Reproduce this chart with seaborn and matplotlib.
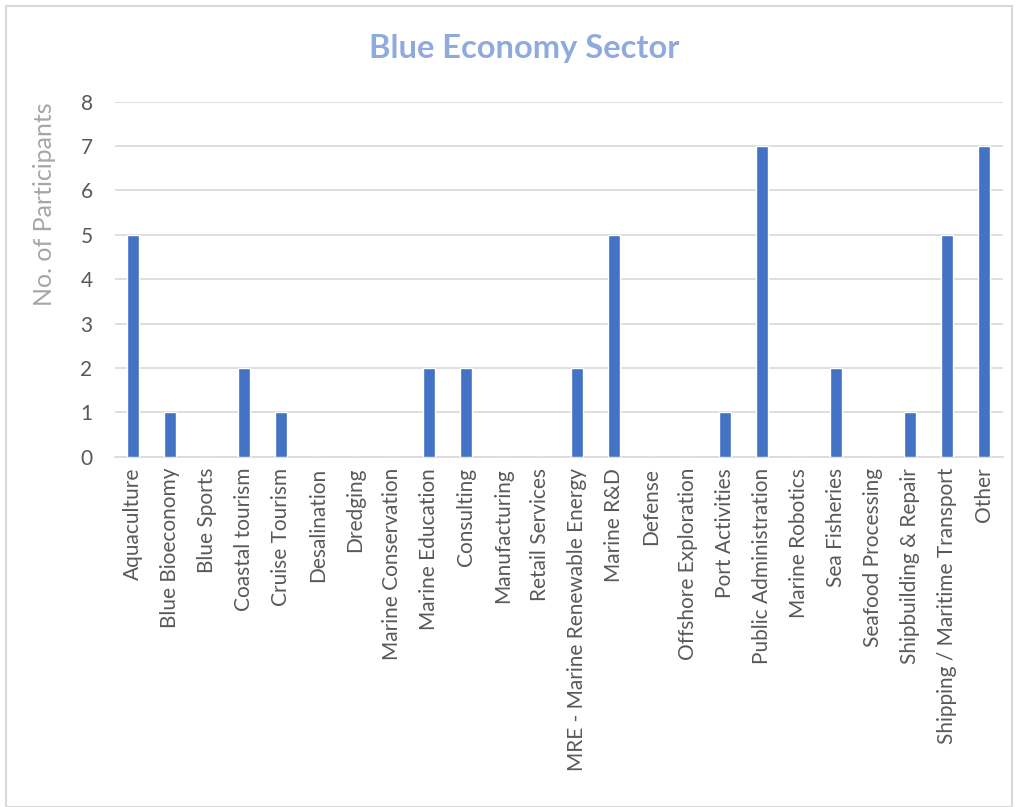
import matplotlib
matplotlib.use("Agg")
import matplotlib.pyplot as plt
import seaborn as sns
import pandas as pd
from matplotlib.patches import Rectangle

categories = ["Aquaculture", "Blue Bioeconomy", "Blue Sports", "Coastal tourism",
              "Cruise Tourism", "Desalination", "Dredging", "Marine Conservation",
              "Marine Education", "Consulting", "Manufacturing", "Retail Services",
              "MRE - Marine Renewable Energy", "Marine R&D", "Defense",
              "Offshore Exploration", "Port Activities", "Public Administration",
              "Marine Robotics", "Sea Fisheries", "Seafood Processing",
              "Shipbuilding & Repair", "Shipping / Maritime Transport", "Other"]
participants = [5, 1, 0, 2, 1, 0, 0, 0, 2, 2, 0, 0, 2, 5, 0, 0, 1, 7, 0, 2, 0, 1, 5, 7]
y_ticks = [0, 1, 2, 3, 4, 5, 6, 7, 8]

df = pd.DataFrame({"Sector": categories, "Count": participants})

sns.set_theme(style="white")
plt.rcParams['font.family'] = ['Lato', 'DejaVu Sans']

fig = plt.figure(figsize=(10.16, 8.07), dpi=100)
ax = fig.add_axes([0.113, 0.434, 0.874, 0.440])

sns.barplot(data=df, x="Sector", y="Count", color="#4472C4", width=0.33,
            saturation=1, ax=ax, zorder=3)

ax.set_ylim(0, 8)
ax.set_yticks(y_ticks)
ax.yaxis.grid(True, color="#D9D9D9", linewidth=1.2, zorder=0)
ax.set_axisbelow(True)
for s in ["top", "right", "left"]:
    ax.spines[s].set_visible(False)
ax.spines["bottom"].set_color("#D9D9D9")
ax.spines["bottom"].set_linewidth(1.2)
ax.tick_params(axis="both", length=0, colors="#595959", labelsize=15)
ax.tick_params(axis="y", pad=16)
ax.tick_params(axis="x", pad=8)
plt.setp(ax.get_xticklabels(), rotation=90)
ax.set_xlabel("")
ax.set_ylabel("No. of Participants", color="#A6A6A6", fontsize=18,
              va="center", ha="center")
ax.yaxis.set_label_coords(-0.079, 0.71)

fig.text(0.516, 0.94, "Blue Economy Sector", ha="center", va="center",
         fontsize=23.5, fontweight="bold", color="#8FAADC")

fig.patches.append(Rectangle((0.006, 0.0), 0.99, 0.993, transform=fig.transFigure,
                             fill=False, edgecolor="#D9D9D9", linewidth=1.5))

fig.savefig("out.png", dpi=100)
